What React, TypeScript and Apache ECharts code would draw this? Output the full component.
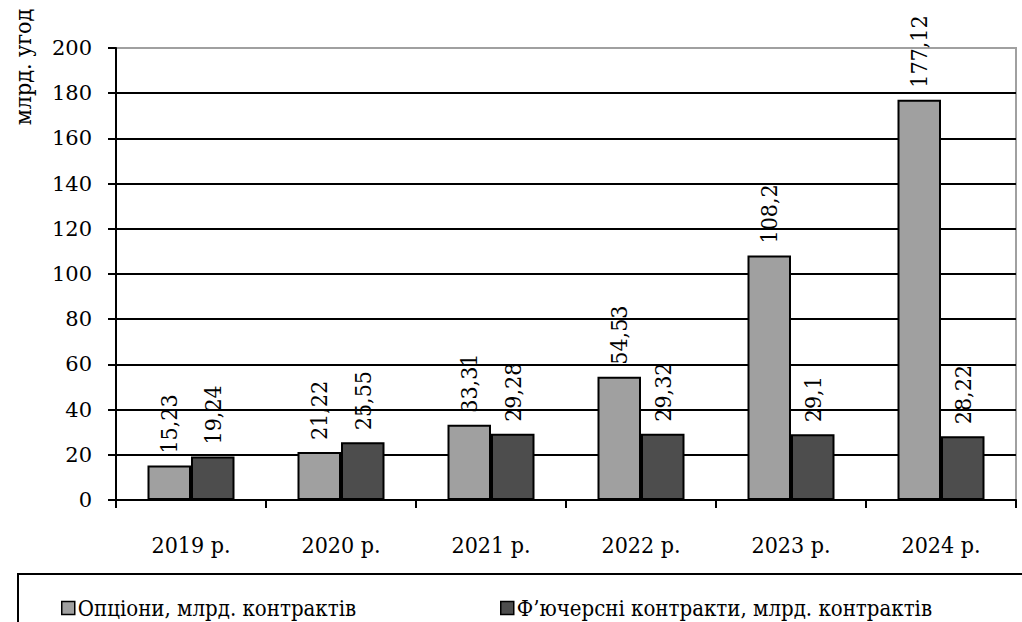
import React, { useEffect, useRef } from "react";
import * as echarts from "echarts";

const categories = ["2019 р.", "2020 р.", "2021 р.", "2022 р.", "2023 р.", "2024 р."];
const optionsValues = [15.23, 21.22, 33.31, 54.53, 108.2, 177.12];
const futuresValues = [19.24, 25.55, 29.28, 29.32, 29.1, 28.22];
const seriesNames = ["Опціони, млрд. контрактів", "Ф’ючерсні контракти, млрд. контрактів"];
const yAxisTitle = "млрд. угод";

const FONT = "DejaVu Serif Condensed";

export default function App() {
  const ref = useRef<HTMLDivElement>(null);
  useEffect(() => {
    if (!ref.current) return;
    const chart = echarts.init(ref.current, undefined, { renderer: "svg" });
    const label = {
      show: true,
      position: "top",
      rotate: 90,
      align: "left",
      verticalAlign: "middle",
      distance: 12,
      fontFamily: FONT,
      fontSize: 23,
      color: "#000",
      formatter: (p: any) => String(p.value).replace(".", ","),
    };
    const splitColors = Array(10).fill("#000").concat(["#a0a0a0"]);
    chart.setOption({
      animation: false,
      textStyle: { fontFamily: FONT },
      grid: {
        left: 116,
        right: 6,
        top: 48,
        bottom: 122,
        show: true,
        borderColor: "#a0a0a0",
        borderWidth: 2,
        backgroundColor: "transparent",
      },
      xAxis: {
        type: "category",
        data: categories,
        axisLine: { lineStyle: { color: "#000", width: 2 } },
        axisTick: { show: true, length: 8, lineStyle: { color: "#000", width: 2 } },
        axisLabel: { color: "#000", fontSize: 23, fontFamily: FONT, margin: 33 },
      },
      yAxis: {
        type: "value",
        min: 0,
        max: 200,
        interval: 20,
        axisLine: { show: true, lineStyle: { color: "#000", width: 2 } },
        axisTick: { show: true, length: 8, lineStyle: { color: "#000", width: 2 } },
        axisLabel: { color: "#000", fontSize: 21, fontFamily: "DejaVu Serif", margin: 24 },
        splitLine: { show: true, lineStyle: { color: splitColors, width: 2 } },
      },
      legend: [
        {
          data: [seriesNames[0]],
          left: 56,
          top: 592,
          icon: "rect",
          itemWidth: 13,
          itemHeight: 13,
          itemGap: 6,
          textStyle: { color: "#000", fontSize: 22, fontFamily: FONT, padding: [0, 0, 0, -2] },
          itemStyle: { borderColor: "#000", borderWidth: 1.5 },
        },
        {
          data: [seriesNames[1]],
          left: 495,
          top: 592,
          icon: "rect",
          itemWidth: 13,
          itemHeight: 13,
          textStyle: { color: "#000", fontSize: 22, fontFamily: FONT, padding: [0, 0, 0, -2] },
          itemStyle: { borderColor: "#000", borderWidth: 1.5 },
        },
      ],
      graphic: [
        {
          type: "rect",
          shape: { x: 18, y: 574, width: 1030, height: 80 },
          style: { fill: "none", stroke: "#000", lineWidth: 2 },
        },
        {
          type: "text",
          x: 23,
          y: 67,
          rotation: Math.PI / 2,
          style: {
            text: yAxisTitle,
            fontSize: 23,
            fontFamily: FONT,
            fill: "#000",
            align: "center",
            verticalAlign: "middle",
          },
        },
      ],
      series: [
        {
          name: seriesNames[0],
          type: "bar",
          data: optionsValues,
          barWidth: "29%",
          barGap: "0%",
          itemStyle: { color: "#a0a0a0", borderColor: "#000", borderWidth: 2 },
          label,
        },
        {
          name: seriesNames[1],
          type: "bar",
          data: futuresValues,
          barWidth: "29%",
          barGap: "0%",
          itemStyle: { color: "#4d4d4d", borderColor: "#000", borderWidth: 2 },
          label,
        },
      ],
    });
    return () => chart.dispose();
  }, []);
  return <div ref={ref} style={{ width: 1022, height: 622, position: "absolute", left: 0, top: 0 }} />;
}
